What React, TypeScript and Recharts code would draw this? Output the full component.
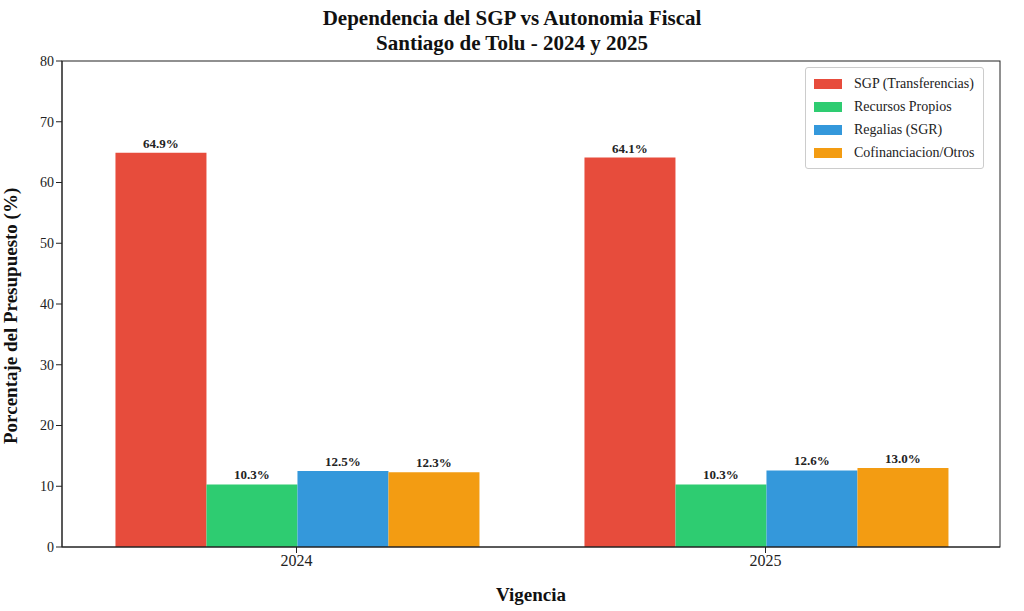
import React from "react";
import { BarChart, Bar, XAxis, YAxis, Legend, LabelList } from "recharts";

const years = ["2024", "2025"];
const sgp = [64.9, 64.1];
const propios = [10.3, 10.3];
const regalias = [12.5, 12.6];
const cofin = [12.3, 13.0];

const SERIES = [
  { key: "sgp", name: "SGP (Transferencias)", color: "#e74c3c" },
  { key: "propios", name: "Recursos Propios", color: "#2ecc71" },
  { key: "regalias", name: "Regalias (SGR)", color: "#3498db" },
  { key: "cofin", name: "Cofinanciacion/Otros", color: "#f39c12" },
];

const data = years.map((y, i) => ({
  year: y,
  sgp: sgp[i],
  propios: propios[i],
  regalias: regalias[i],
  cofin: cofin[i],
}));

const FONT = "'Liberation Serif', 'DejaVu Serif', serif";

function LegendBox() {
  return (
    <div
      style={{
        position: "absolute",
        top: 67,
        left: 805,
        border: "1px solid #ccc",
        borderRadius: 3,
        background: "#fff",
        padding: "4px 8px 4px 8px",
        fontSize: 14,
        fontFamily: FONT,
        color: "#222",
      }}
    >
      {SERIES.map((s) => (
        <div key={s.key} style={{ display: "flex", alignItems: "center", height: 23 }}>
          <span style={{ width: 28, height: 10, background: s.color, marginRight: 12, display: "inline-block" }} />
          {s.name}
        </div>
      ))}
    </div>
  );
}

export default function App() {
  return (
    <div style={{ position: "absolute", left: 0, top: 0, width: 1024, height: 611, background: "#fff", fontFamily: FONT }}>
      <div style={{ position: "absolute", top: 6, width: 1024, textAlign: "center", fontWeight: "bold", fontSize: 21, lineHeight: "25px", color: "#111" }}>
        Dependencia del SGP vs Autonomia Fiscal
        <br />
        Santiago de Tolu - 2024 y 2025
      </div>
      <BarChart
        width={1024}
        height={611}
        data={data}
        margin={{ top: 61, right: 24, bottom: 0, left: 0 }}
        barCategoryGap="11.4%"
        barGap={0}
      >
        <XAxis
          dataKey="year"
          height={64}
          tick={{ fontSize: 16, fill: "#222", fontFamily: FONT }}
          tickLine={{ stroke: "#222" }}
          axisLine={{ stroke: "#222" }}
          label={{ value: "Vigencia", position: "insideBottom", offset: 10, fontSize: 19, fontWeight: "bold", fill: "#111", fontFamily: FONT }}
        />
        <YAxis
          width={62}
          domain={[0, 80]}
          ticks={[0, 10, 20, 30, 40, 50, 60, 70, 80]}
          tick={{ fontSize: 14, fill: "#222", fontFamily: FONT }}
          tickLine={{ stroke: "#222" }}
          axisLine={{ stroke: "#222" }}
          label={{ value: "Porcentaje del Presupuesto (%)", angle: -90, position: "insideLeft", offset: 10, dy: 140, fontSize: 19, fontWeight: "bold", fill: "#111", fontFamily: FONT }}
        />
        {SERIES.map((s) => (
          <Bar key={s.key} dataKey={s.key} name={s.name} fill={s.color} isAnimationActive={false}>
            <LabelList
              dataKey={s.key}
              position="top"
              formatter={(v: number) => v.toFixed(1) + "%"}
              style={{ fontSize: 13, fontWeight: "bold", fill: "#222", fontFamily: FONT }}
            />
          </Bar>
        ))}
        <Legend content={() => null} />
      </BarChart>
      <svg style={{ position: "absolute", left: 0, top: 0, pointerEvents: "none" }} width={1024} height={611}>
        <rect x={62} y={61} width={938} height={486} fill="none" stroke="#222" />
      </svg>
      <LegendBox />
    </div>
  );
}
